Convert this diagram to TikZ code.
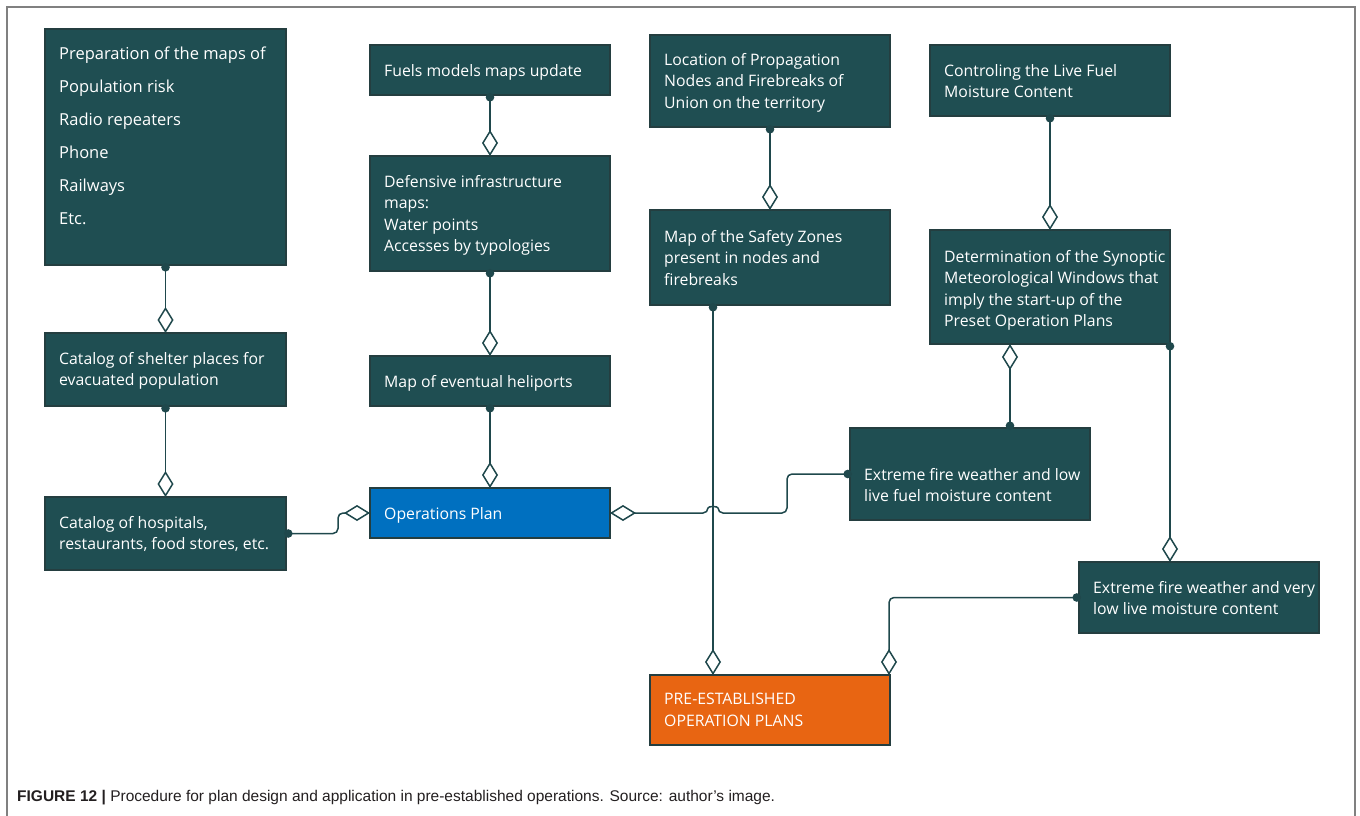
\documentclass[tikz,border=0pt]{standalone}
\usepackage{fontspec}
\setmainfont{Open Sans}
\newfontfamily\capfont{Liberation Sans}
\usetikzlibrary{arrows.meta,calc}
\definecolor{tealbox}{RGB}{31,78,82}
\definecolor{edgec}{RGB}{36,62,64}
\definecolor{linec}{RGB}{31,72,76}
\definecolor{bluebox}{RGB}{0,112,192}
\definecolor{orangebox}{RGB}{232,101,18}
\definecolor{framec}{RGB}{128,128,128}
\definecolor{capc}{RGB}{35,31,32}
\newcommand\mybox[6]{\node[box,fill=#6,minimum width={(#4-#2)*1pt},minimum height={(#5-#3)*1pt}] (#1) at (#2,#3) {};}
\begin{document}
\begin{tikzpicture}[x=1pt,y=-1pt,
  box/.style={draw=edgec,line width=1.2pt,anchor=north west,inner sep=0pt,outer sep=0pt},
  txt/.style={anchor=north west,inner sep=0pt,text=white,align=left,font=\fontsize{15.8}{21.5}\selectfont},
  conn/.style={draw=linec,line width=1.5pt,{Circle[length=8.5pt,width=8.5pt]}-{Diamond[length=26pt,width=16pt,fill=white]},shorten <=-2pt,rounded corners=5pt}]
\useasboundingbox (0,0) rectangle (1360,816);
\draw[framec,line width=1.5pt] (7,816) -- (7,7) -- (1355,7) -- (1355,816);

% boxes
\mybox{prep}{45}{29}{286}{265}{tealbox}
\mybox{shelter}{45}{333}{286}{406}{tealbox}
\mybox{hosp}{45}{497}{286}{570}{tealbox}
\mybox{fuels}{370}{45}{610}{95}{tealbox}
\mybox{def}{370}{156}{610}{271}{tealbox}
\mybox{heli}{370}{356}{610}{406}{tealbox}
\mybox{ops}{370}{488}{610}{538}{bluebox}
\mybox{loc}{650}{35}{890}{127}{tealbox}
\mybox{safety}{650}{210}{890}{305}{tealbox}
\mybox{ctrl}{930}{45}{1170}{116}{tealbox}
\mybox{det}{930}{230}{1170}{344}{tealbox}
\mybox{exlow}{850}{428}{1090}{520}{tealbox}
\mybox{exvlow}{1079}{562}{1319}{633}{tealbox}
\mybox{pre}{650}{675}{890}{745}{orangebox}

% texts
\node[txt,font=\fontsize{16.5}{33}\selectfont] (prept) at ($(prep.north west)+(14,18)$) {Preparation of the maps of\\Population risk\\Radio repeaters\\Phone\\Railways\\Etc.};
\node[txt] (sheltert) at ($(shelter.north west)+(14,19)$) {Catalog of shelter places for\\evacuated population};
\node[txt] (hospt) at ($(hosp.north west)+(14,19)$) {Catalog of hospitals,\\restaurants, food stores, etc.};
\node[txt] (fuelst) at ($(fuels.north west)+(14,19)$) {Fuels models maps update};
\node[txt] (deft) at ($(def.north west)+(14,19)$) {Defensive infrastructure\\maps:\\Water points\\Accesses by typologies};
\node[txt] (helit) at ($(heli.north west)+(14,19)$) {Map of eventual heliports};
\node[txt] (opst) at ($(ops.north west)+(14,19)$) {Operations Plan};
\node[txt] (loct) at ($(loc.north west)+(14,18)$) {Location of Propagation\\Nodes and Firebreaks of\\Union on the territory};
\node[txt] (safetyt) at ($(safety.north west)+(14,20)$) {Map of the Safety Zones\\present in nodes and\\firebreaks};
\node[txt] (ctrlt) at ($(ctrl.north west)+(14,19)$) {Controling the Live Fuel\\Moisture Content};
\node[txt] (dett) at ($(det.north west)+(14,20)$) {Determination of the Synoptic\\Meteorological Windows that\\imply the start-up of the\\Preset Operation Plans};
\node[txt] (exlowt) at ($(exlow.north west)+(14,40)$) {Extreme fire weather and low\\live fuel moisture content};
\node[txt] (exvlowt) at ($(exvlow.north west)+(14,19)$) {Extreme fire weather and very\\low live moisture content};
\node[txt] (pret) at ($(pre.north west)+(14,18)$) {PRE-ESTABLISHED\\OPERATION PLANS};

% connectors
\draw[conn] (prep.south) -- (shelter.north);
\draw[conn] (shelter.south) -- (hosp.north);
\draw[conn] (hosp.east) -| ($(ops.west)+(-32,0)$) -- (ops.west);
\draw[conn] (fuels.south) -- (def.north);
\draw[conn] (def.south) -- (heli.north);
\draw[conn] (heli.south) -- (ops.north);
\draw[conn] (loc.south) -- (safety.north);
\draw[conn] ($(safety.south)+(-57,0)$) -- ($(pre.north)+(-57,0)$);
\draw[conn] (ctrl.south) -- (det.north);
\draw[conn] ($(exlow.north)+(40,0)$) -- ($(det.south)+(-40,0)$);
\draw[conn] (det.south east) -- (det.south east |- exvlow.north);
\draw[conn] (exlow.west) -| ($(ops.east)+(177,0)$) -- ($(ops.east)+(108,0)$)
  .. controls ($(ops.east)+(108,-7)$) and ($(ops.east)+(98,-7)$) .. ($(ops.east)+(98,0)$) -- (ops.east);
\draw[conn] (exvlow.west) -| ($(pre.north east)+(-1,0)$);

% caption
\node[anchor=base west,inner sep=0pt,text=capc,font=\capfont\fontsize{15.5}{18}\selectfont] (cap) at (17,801)
  {\textbf{FIGURE 12 |} Procedure for plan design and application in pre-established operations. Source: author’s image.};
\end{tikzpicture}
\end{document}
